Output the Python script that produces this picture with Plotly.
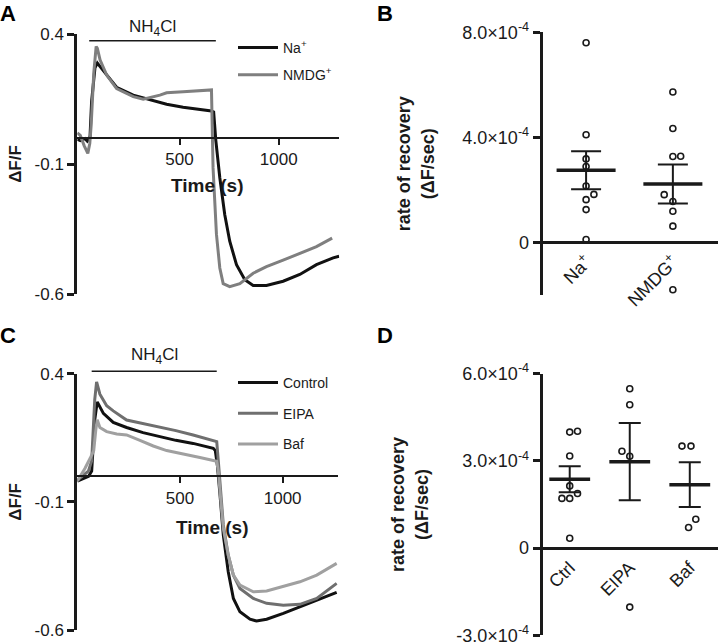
import numpy as np
import plotly.graph_objects as go

W, H = 720, 644
FONT = "Liberation Sans, Arial, sans-serif"
INK = "#1a1a1a"

# ---------------- Panel A data (ΔF/F vs time) ----------------
a_na_t = [-15, 0, 23, 35, 49, 57, 74, 86, 110, 133, 183, 267, 351, 435, 518, 602, 661, 672, 683, 703,
          728, 753, 787, 829, 871, 938, 1022, 1106, 1190, 1274, 1304]
a_na_v = [-0.005, -0.01, -0.002, -0.012, 0.005, 0.14, 0.27, 0.288, 0.265, 0.242, 0.195, 0.165, 0.146, 0.13,
          0.118, 0.11, 0.104, 0.1, -0.01, -0.153, -0.295, -0.397, -0.487, -0.545, -0.567, -0.567, -0.551,
          -0.525, -0.487, -0.461, -0.455]
a_nmdg_t = [-15, 0, 20, 38, 48, 55, 68, 80, 86, 100, 133, 183, 267, 317, 401, 435, 518, 602, 655, 661,
            669, 678, 686, 703, 720, 753, 804, 871, 938, 1022, 1106, 1190, 1269]
a_nmdg_v = [0.02, 0.01, -0.03, -0.059, -0.02, 0.05, 0.25, 0.352, 0.345, 0.3, 0.242, 0.19, 0.159, 0.149,
            0.165, 0.174, 0.178, 0.182, 0.187, 0.185, -0.115, -0.24, -0.37, -0.5, -0.56, -0.572, -0.56,
            -0.52, -0.495, -0.47, -0.443, -0.418, -0.385]

# ---------------- Panel C data ----------------
c_ctrl_t = [0, 30, 55, 70, 85, 97, 127, 175, 240, 320, 403, 480, 564, 662, 672, 682, 695, 711, 735, 760,
            792, 841, 873, 922, 1003, 1084, 1166, 1263]
c_ctrl_v = [-0.019, -0.008, 0.0, 0.02, 0.22, 0.29, 0.245, 0.21, 0.19, 0.17, 0.154, 0.14, 0.128, 0.109, 0.1,
            0.043, -0.074, -0.23, -0.373, -0.477, -0.529, -0.558, -0.565, -0.558, -0.535, -0.509, -0.483,
            -0.453]
c_eipa_t = [0, 29, 54, 70, 85, 94, 110, 143, 175, 240, 320, 403, 480, 564, 679, 687, 698, 711, 735, 760,
            792, 857, 922, 1003, 1084, 1166, 1263]
c_eipa_v = [-0.016, 0.005, 0.02, 0.06, 0.3, 0.368, 0.32, 0.275, 0.255, 0.219, 0.205, 0.193, 0.178, 0.161,
            0.135, 0.056, -0.074, -0.19, -0.308, -0.386, -0.438, -0.477, -0.496, -0.503, -0.5, -0.477,
            -0.418]
c_baf_t = [0, 37, 62, 80, 90, 97, 110, 143, 192, 240, 305, 370, 435, 516, 597, 679, 687, 698, 711, 735,
           760, 792, 857, 922, 1003, 1084, 1166, 1263]
c_baf_v = [-0.019, 0.03, 0.069, 0.1, 0.18, 0.22, 0.19, 0.174, 0.165, 0.161, 0.14, 0.118, 0.1, 0.085,
           0.073, 0.058, 0.017, -0.087, -0.204, -0.308, -0.386, -0.425, -0.451, -0.448, -0.431, -0.412,
           -0.386, -0.34]

# NH4Cl application period (s) for A and C
nh4_a = [45, 683]
nh4_c = [70, 679]

# ---------------- Panel B data (rate of recovery, ΔF/sec) ----------------
b_groups = ["Na<sup>+</sup>", "NMDG<sup>+</sup>"]
b_na = [7.6e-4, 4.1e-4, 3.18e-4, 2.89e-4, 2.15e-4, 1.83e-4, 1.63e-4, 1.25e-4, 0.11e-4]
b_na_jit = [0, 0, 0, 0, 0, 0.09, 0, 0, 0]
b_nmdg = [5.73e-4, 4.34e-4, 3.27e-4, 3.28e-4, 1.82e-4, 1.56e-4, 1.19e-4, 0.62e-4, -1.80e-4]
b_nmdg_jit = [0, 0, 0, 0.09, -0.1, 0, 0, 0, 0]

# ---------------- Panel D data ----------------
d_groups = ["Ctrl", "EIPA", "Baf"]
d_ctrl = [3.99e-4, 4.02e-4, 3.17e-4, 2.14e-4, 1.88e-4, 1.71e-4, 1.71e-4, 0.34e-4]
d_ctrl_jit = [0, 0.13, 0, 0, 0.13, -0.13, 0, 0]
d_eipa = [5.48e-4, 4.93e-4, 3.33e-4, 3.16e-4, -2.03e-4]
d_eipa_jit = [0, 0, -0.13, 0, 0]
d_baf = [3.51e-4, 3.51e-4, 0.99e-4, 0.71e-4]
d_baf_jit = [-0.13, 0.02, 0.1, -0.02]

# ---------------- layout geometry (pixels) ----------------
def px_x(p):
    return p / W

def px_y(p):
    return 1 - p / H

# panel boxes: (x0, x1, ytop, ybottom) in px
box_a = (77.3, 339.3, 34, 294)
box_b = (542.7, 718, 32.3, 295)
box_c = (77.3, 337.7, 373.7, 630)
box_d = (542.7, 718, 373.7, 635.3)

rng_a_y = [-0.6, 0.4]
rng_b_y = [-2e-4, 8e-4]
rng_d_y = [-3e-4, 6e-4]

fig = go.Figure()


def val_to_paper(box, yr, v):
    y0p, y1p = px_y(box[3]), px_y(box[2])
    return y0p + (v - yr[0]) / (yr[1] - yr[0]) * (y1p - y0p)


def add_time_panel(xa, ya, box, xr, traces, leg):
    for t, v, name, col in traces:
        fig.add_trace(go.Scatter(x=t, y=v, mode="lines", name=name, xaxis=xa, yaxis=ya,
                                 line=dict(color=col, width=3), legend=leg, legendgroup=leg + name))
    xk = "xaxis" + xa[1:]
    yk = "yaxis" + ya[1:]
    fig.layout[xk] = dict(domain=[px_x(box[0]), px_x(box[1])], range=xr, anchor="free",
                          position=val_to_paper(box, rng_a_y, 0), showline=True, linewidth=2,
                          linecolor=INK, ticks="outside", ticklen=6, tickwidth=2, tickcolor=INK,
                          tickvals=[500, 1000], showgrid=False, zeroline=False, automargin=False,
                          tickfont=dict(family=FONT, size=17, color=INK))
    fig.layout[yk] = dict(domain=[px_y(box[3]), px_y(box[2])], range=rng_a_y, anchor=xa,
                          showline=True, linewidth=3, linecolor=INK, ticks="outside", ticklen=7,
                          tickwidth=2.5, tickcolor=INK, tickvals=[-0.6, -0.1, 0.4],
                          ticktext=["-0.6", "-0.1", "0.4"], showgrid=False, zeroline=False,
                          automargin=False, ticklabeloverflow="allow",
                          tickfont=dict(family=FONT, size=17, color=INK),
                          title=dict(text="<b>ΔF/F</b>", font=dict(family=FONT, size=17, color=INK),
                                     standoff=9))


def add_scatter_panel(xa, ya, box, yr, groups, values, jitters, tickv, tickt, xr, capw):
    xk = "xaxis" + xa[1:]
    yk = "yaxis" + ya[1:]
    for i, (vals, jit) in enumerate(zip(values, jitters)):
        vals = np.asarray(vals)
        m = vals.mean()
        sem = vals.std(ddof=1) / np.sqrt(len(vals))
        fig.add_trace(go.Scatter(x=i + np.asarray(jit), y=vals, mode="markers", xaxis=xa, yaxis=ya,
                                 showlegend=False, cliponaxis=False,
                                 marker=dict(symbol="circle-open", size=6, color=INK,
                                             line=dict(width=1.6, color=INK))))
        fig.add_trace(go.Scatter(x=[i], y=[m], mode="markers", xaxis=xa, yaxis=ya, showlegend=False,
                                 marker=dict(size=1, color="rgba(0,0,0,0)"),
                                 error_y=dict(type="data", array=[sem], color=INK, thickness=2,
                                              width=capw)))
        fig.add_trace(go.Scatter(x=[i - 0.34, i + 0.34], y=[m, m], mode="lines", xaxis=xa, yaxis=ya,
                                 showlegend=False, line=dict(color=INK, width=3.5)))
    fig.layout[xk] = dict(domain=[px_x(box[0]), px_x(box[1])], range=xr, anchor="free",
                          position=val_to_paper(box, yr, 0), showline=True, linewidth=3,
                          linecolor=INK, ticks="", tickvals=list(range(len(groups))),
                          ticktext=groups, tickangle=-45, showgrid=False, zeroline=False,
                          automargin=False, ticklabeloverflow="allow",
                          tickfont=dict(family=FONT, size=18, color=INK))
    fig.layout[yk] = dict(domain=[px_y(box[3]), px_y(box[2])], range=yr, anchor=xa,
                          showline=True, linewidth=3, linecolor=INK, ticks="outside", ticklen=7,
                          tickwidth=2.5, tickcolor=INK, tickvals=tickv, ticktext=tickt,
                          showgrid=False, zeroline=False, automargin=False,
                          ticklabeloverflow="allow",
                          tickfont=dict(family=FONT, size=18, color=INK),
                          title=dict(text="<b>rate of recovery<br>(ΔF/sec)</b>",
                                     font=dict(family=FONT, size=18, color=INK), standoff=24))


add_time_panel("x", "y", box_a, [-15, 1305],
               [(a_na_t, a_na_v, "Na<sup>+</sup>", "#111111"),
                (a_nmdg_t, a_nmdg_v, "NMDG<sup>+</sup>", "#7f7f7f")], "legend")
add_time_panel("x3", "y3", box_c, [0, 1268],
               [(c_ctrl_t, c_ctrl_v, "Control", "#111111"),
                (c_eipa_t, c_eipa_v, "EIPA", "#6f6f6f"),
                (c_baf_t, c_baf_v, "Baf", "#a0a0a0")], "legend2")

add_scatter_panel("x2", "y2", box_b, rng_b_y, b_groups, [b_na, b_nmdg], [b_na_jit, b_nmdg_jit],
                  [0, 4e-4, 8e-4], ["0", "4.0×10<sup>-4</sup>", "8.0×10<sup>-4</sup>"],
                  [-0.5, 1.52], 15)
add_scatter_panel("x4", "y4", box_d, rng_d_y, d_groups, [d_ctrl, d_eipa, d_baf],
                  [d_ctrl_jit, d_eipa_jit, d_baf_jit],
                  [-3e-4, 0, 3e-4, 6e-4],
                  ["-3.0×10<sup>-4</sup>", "0", "3.0×10<sup>-4</sup>", "6.0×10<sup>-4</sup>"],
                  [-0.45, 2.47], 11)

# NH4Cl bars and x-axis titles
shapes = []
annos = []
for xa, box, per, ybar, ytxt, ttl_x, ttl_y in [
        ("x", box_a, nh4_a, 0.374, 0.424, 208, 185),
        ("x3", box_c, nh4_c, 0.41, 0.47, 212, 527)]:
    yb = val_to_paper(box, rng_a_y, ybar)
    shapes.append(dict(type="line", xref=xa, yref="paper", x0=per[0], x1=per[1], y0=yb, y1=yb,
                       line=dict(color=INK, width=1.5)))
    annos.append(dict(xref=xa, yref="paper", x=(per[0] + per[1]) / 2,
                      y=val_to_paper(box, rng_a_y, ytxt), text="NH<sub>4</sub>Cl",
                      xanchor="center", yanchor="middle",
                      showarrow=False, font=dict(family=FONT, size=17, color=INK)))
    annos.append(dict(xref="paper", yref="paper", x=px_x(ttl_x), y=px_y(ttl_y), text="<b>Time (s)</b>",
                      xanchor="center", yanchor="middle",
                      showarrow=False, font=dict(family=FONT, size=19, color=INK)))

for lab, x, y in [("A", 8, 13), ("B", 385, 13), ("C", 8, 335), ("D", 385, 335)]:
    annos.append(dict(xref="paper", yref="paper", x=px_x(x), y=px_y(y), text="<b>%s</b>" % lab,
                      xanchor="center", yanchor="middle",
                      showarrow=False, font=dict(family=FONT, size=22, color="#000")))

leg_common = dict(xanchor="left", yanchor="top", bgcolor="rgba(0,0,0,0)",
                  font=dict(family=FONT, size=14, color=INK), itemwidth=40)
fig.update_layout(
    width=W, height=H, margin=dict(l=0, r=0, t=0, b=0, autoexpand=False),
    paper_bgcolor="white", plot_bgcolor="white",
    shapes=shapes, annotations=annos, showlegend=True,
    legend=dict(x=px_x(233), y=px_y(32), tracegroupgap=6, **leg_common),
    legend2=dict(x=px_x(233), y=px_y(367), tracegroupgap=9.5, **leg_common),
)

fig.write_html("out.html", config={"displayModeBar": False},
               post_script="document.body.style.margin='0';document.body.style.overflow='hidden';")
